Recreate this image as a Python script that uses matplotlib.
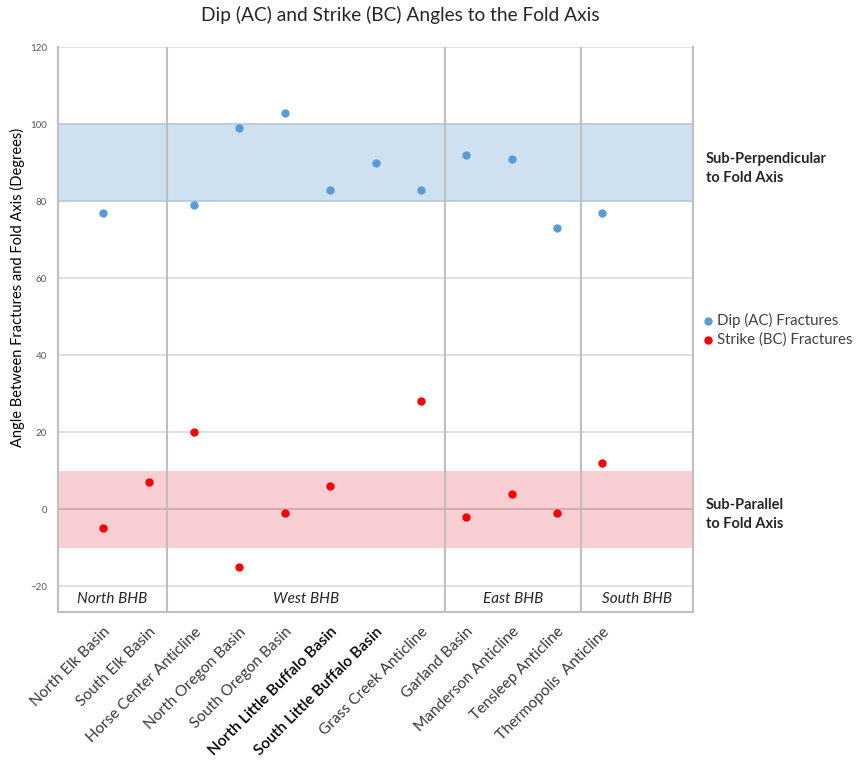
import matplotlib
matplotlib.use("Agg")
import matplotlib.pyplot as plt

plt.rcParams["font.family"] = ["Lato", "DejaVu Sans"]

# Campos muestreados, en el orden del eje x
campos = ["North Elk Basin", "South Elk Basin", "Horse Center Anticline",
          "North Oregon Basin", "South Oregon Basin", "North Little Buffalo Basin",
          "South Little Buffalo Basin", "Grass Creek Anticline", "Garland Basin",
          "Manderson Anticline", "Tensleep Anticline", "Thermopolis  Anticline"]

# Ángulos (grados); None = sin dato
dip_ac = [77, None, 79, 99, 103, 83, 90, 83, 92, 91, 73, 77]
strike_bc = [-5, 7, 20, -15, -1, 6, None, 28, -2, 4, -1, 12]

# Grupos regionales y sus límites en x
grupos = ["North BHB", "West BHB", "East BHB", "South BHB"]
limites = [0, 2.4, 8.53, 11.53, 14]

banda_perp = (80, 100)
banda_par = (-10, 10)

x = list(range(1, len(campos) + 1))

fig = plt.figure(figsize=(8.6, 7.7), dpi=100)
ax = fig.add_axes([0.0674, 0.2048, 0.7386, 0.7338])

ymin, ymax = -26.8, 120
ax.set_xlim(limites[0], limites[-1])
ax.set_ylim(ymin, ymax)

# bandas de referencia
ax.axhspan(*banda_perp, color="#cfe0f1", zorder=0, lw=0)
ax.axhspan(*banda_par, color="#f9cfd3", zorder=0, lw=0)
for y in banda_perp:
    ax.axhline(y, color="#b3c7db", lw=1.2, zorder=1)

# rejilla horizontal
for y in range(-20, 121, 20):
    if y in banda_perp:
        continue
    c = "#c9a9ab" if y == 0 else "#d9d9d9"
    ax.axhline(y, color=c, lw=1.2, zorder=1)

# separadores de grupo
for xv in limites[1:-1]:
    ax.axvline(xv, color="#bfbfbf", lw=1.5, zorder=1)

# nombres de grupo en la franja inferior
for i, g in enumerate(grupos):
    xc = (limites[i] + limites[i + 1]) / 2
    ax.text(xc, (ymin - 20) / 2, g, ha="center", va="center",
            style="italic", fontsize=11, color="#262626")

xd = [xi for xi, v in zip(x, dip_ac) if v is not None]
yd = [v for v in dip_ac if v is not None]
xs = [xi for xi, v in zip(x, strike_bc) if v is not None]
ys = [v for v in strike_bc if v is not None]
ax.scatter(xd, yd, s=36, color="#5b9bd5", zorder=3, lw=0, label="Dip (AC) Fractures")
ax.scatter(xs, ys, s=36, color="#ff0000", zorder=3, lw=0, label="Strike (BC) Fractures")

ax.set_yticks(range(-20, 121, 20))
ax.tick_params(axis="y", length=0, labelsize=7, labelcolor="#595959", pad=8)
ax.set_xticks(x)
ax.set_xticklabels(campos)
ax.tick_params(axis="x", length=0, pad=9)
for lbl in ax.get_xticklabels():
    lbl.set_rotation(45)
    lbl.set_ha("right")
    lbl.set_rotation_mode("anchor")
    lbl.set_fontsize(11.2)
    if "Little Buffalo" in lbl.get_text():
        lbl.set_color("black")
        lbl.set_fontweight("semibold")
    else:
        lbl.set_color("#3a3a3a")

ax.spines["top"].set_visible(False)
for s in ["left", "right", "bottom"]:
    ax.spines[s].set_color("#bfbfbf")
    ax.spines[s].set_linewidth(1.5)

ax.legend(loc="center left", bbox_to_anchor=(1.012, 0.5), frameon=False,
          fontsize=10.8, handletextpad=0.05, handlelength=1.0, borderaxespad=0,
          borderpad=0, labelspacing=0.35, labelcolor="#404040")

ax.text(1.02, 88.5, "Sub-Perpendicular\nto Fold Axis", transform=ax.get_yaxis_transform(),
        ha="left", va="center", fontsize=10.5, fontweight="bold", color="#262626",
        linespacing=1.45)
ax.text(1.02, -1.5, "Sub-Parallel\nto Fold Axis", transform=ax.get_yaxis_transform(),
        ha="left", va="center", fontsize=10.5, fontweight="bold", color="#262626",
        linespacing=1.45)

fig.text(0.466, 0.98, "Dip (AC) and Strike (BC) Angles to the Fold Axis",
         ha="center", va="center", fontsize=13.8, color="#262626")
fig.text(0.02, 0.627, "Angle Between Fractures and Fold Axis (Degrees)",
         rotation=90, ha="center", va="center", fontsize=10.5, color="black")

fig.savefig("out.png", dpi=100)
